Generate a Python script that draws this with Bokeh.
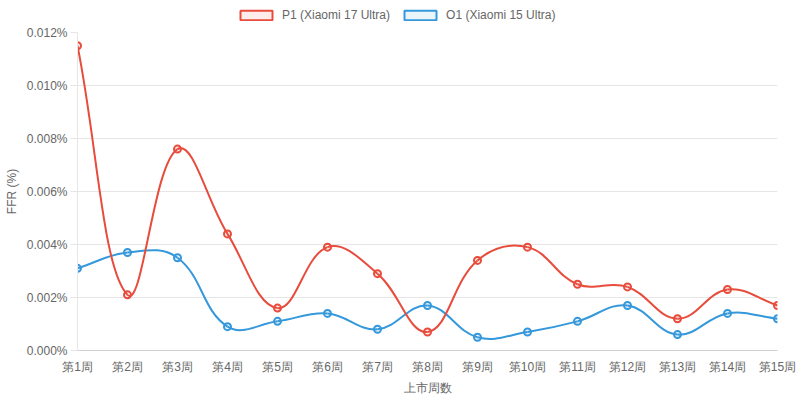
import numpy as np
from bokeh.plotting import figure
from bokeh.layouts import column
from bokeh.models import (Range1d, FixedTicker, PrintfTickFormatter, Legend, LegendItem,
                          ColumnDataSource)
from bokeh.embed import file_html
from bokeh.resources import INLINE

weeks = ["第1周", "第2周", "第3周", "第4周", "第5周", "第6周", "第7周", "第8周",
         "第9周", "第10周", "第11周", "第12周", "第13周", "第14周", "第15周"]
p1_values = [0.0115, 0.0021, 0.0076, 0.0044, 0.0016, 0.0039, 0.0029, 0.0007,
             0.0034, 0.0039, 0.0025, 0.0024, 0.0012, 0.0023, 0.0017]
o1_values = [0.0031, 0.0037, 0.0035, 0.0009, 0.0011, 0.0014, 0.0008, 0.0017,
             0.0005, 0.0007, 0.0011, 0.0017, 0.0006, 0.0014, 0.0012]
y_ticks = [0.0, 0.002, 0.004, 0.006, 0.008, 0.010, 0.012]
p1_name = "P1 (Xiaomi 17 Ultra)"
o1_name = "O1 (Xiaomi 15 Ultra)"

RED = "#e74c3c"
BLUE = "#3498db"
TXT = "#666666"
GRID = "#e6e6e6"
FONT = "Liberation Sans"

W = 800
LEG_H = 24
H = 401 - LEG_H
BL, BR, BT, BB = 77, 23, 8, 51
p = figure(width=W, height=H, output_backend="svg", toolbar_location=None,
           x_range=Range1d(0, len(weeks) - 1), y_range=Range1d(y_ticks[0], y_ticks[-1]),
           min_border_left=BL, min_border_right=BR, min_border_top=BT, min_border_bottom=BB)
p.outline_line_color = None
p.background_fill_color = "white"
p.border_fill_color = "white"

# approx pixel scale for spline distance (Chart.js-like tension spline)
frame_w = W - BL - BR
frame_h = H - BT - BB
sx = frame_w / (len(weeks) - 1)
sy = frame_h / (y_ticks[-1] - y_ticks[0])


def spline_segments(vals, t=0.4):
    xs = np.arange(len(vals), dtype=float)
    ys = np.array(vals, dtype=float)
    n = len(xs)
    cpx_prev = np.zeros(n); cpy_prev = np.zeros(n)
    cpx_next = np.zeros(n); cpy_next = np.zeros(n)
    for i in range(n):
        ip = max(i - 1, 0); inx = min(i + 1, n - 1)
        d01 = np.hypot((xs[i] - xs[ip]) * sx, (ys[i] - ys[ip]) * sy)
        d12 = np.hypot((xs[inx] - xs[i]) * sx, (ys[inx] - ys[i]) * sy)
        tot = d01 + d12
        s01 = d01 / tot if tot else 0.0
        s12 = d12 / tot if tot else 0.0
        fa = t * s01; fb = t * s12
        cpx_prev[i] = xs[i] - fa * (xs[inx] - xs[ip])
        cpy_prev[i] = ys[i] - fa * (ys[inx] - ys[ip])
        cpx_next[i] = xs[i] + fb * (xs[inx] - xs[ip])
        cpy_next[i] = ys[i] + fb * (ys[inx] - ys[ip])
    lo, hi = y_ticks[0], y_ticks[-1]
    cpx_prev = np.clip(cpx_prev, 0, n - 1); cpx_next = np.clip(cpx_next, 0, n - 1)
    cpy_prev = np.clip(cpy_prev, lo, hi); cpy_next = np.clip(cpy_next, lo, hi)
    return dict(x0=xs[:-1], y0=ys[:-1], x1=xs[1:], y1=ys[1:],
                cx0=cpx_next[:-1], cy0=cpy_next[:-1], cx1=cpx_prev[1:], cy1=cpy_prev[1:])


x_idx = list(range(len(weeks)))
for vals, col in [(o1_values, BLUE), (p1_values, RED)]:
    seg = ColumnDataSource(spline_segments(vals))
    p.bezier("x0", "y0", "x1", "y1", "cx0", "cy0", "cx1", "cy1", source=seg,
             line_color=col, line_width=2)
    p.scatter(x_idx, vals, size=7, marker="circle", fill_color=col, fill_alpha=0.1,
              line_color=col, line_width=2)

# legend strip (separate figure above the chart)
leg = figure(width=W, height=LEG_H, output_backend="svg", toolbar_location=None,
             x_axis_type=None, y_axis_type=None, x_range=Range1d(0, 1), y_range=Range1d(0, 1),
             min_border=0)
leg.outline_line_color = None
leg.xgrid.grid_line_color = None
leg.ygrid.grid_line_color = None
nan = float("nan")
r1 = leg.quad(left=[nan], right=[nan], top=[nan], bottom=[nan], fill_color=RED, fill_alpha=0.1,
              line_color=RED, line_width=2)
r2 = leg.quad(left=[nan], right=[nan], top=[nan], bottom=[nan], fill_color=BLUE, fill_alpha=0.1,
              line_color=BLUE, line_width=2)
legend = Legend(items=[LegendItem(label=p1_name, renderers=[r1]),
                       LegendItem(label=o1_name, renderers=[r2])],
                orientation="horizontal", location=(159, 2),
                glyph_width=40, glyph_height=12, label_standoff=6, spacing=10,
                padding=0, margin=0, border_line_color=None, background_fill_alpha=0,
                label_text_font=FONT, label_text_font_size="12px", label_text_color=TXT,
                label_height=12)
leg.add_layout(legend, "center")

# axes
p.xaxis.ticker = FixedTicker(ticks=x_idx)
p.xaxis.major_label_overrides = {i: w for i, w in enumerate(weeks)}
p.xaxis.axis_label = "上市周数"
p.yaxis.ticker = FixedTicker(ticks=y_ticks)
p.yaxis.formatter = PrintfTickFormatter(format="%.3f%%")
p.yaxis.axis_label = "FFR (%)"
for ax in (p.xaxis[0], p.yaxis[0]):
    ax.major_label_text_font = FONT
    ax.major_label_text_font_size = "12px"
    ax.major_label_text_color = TXT
    ax.axis_label_text_font = FONT
    ax.axis_label_text_font_size = "12px"
    ax.axis_label_text_color = TXT
    ax.axis_label_text_font_style = "normal"
    ax.minor_tick_line_color = None
p.xaxis.axis_line_color = "#d0d0d0"
p.xaxis.major_tick_line_color = None
p.xaxis.major_label_standoff = 3
p.xaxis.axis_label_standoff = 4
p.yaxis.axis_line_color = GRID
p.yaxis.major_tick_line_color = GRID
p.yaxis.major_tick_out = 7
p.yaxis.major_tick_in = 0
p.yaxis.major_label_standoff = 3
p.yaxis.axis_label_standoff = 5
p.xgrid.grid_line_color = None
p.ygrid.grid_line_color = GRID
p.ygrid.ticker = FixedTicker(ticks=y_ticks)

layout = column(leg, p, spacing=0)
open("out.html", "w").write(file_html(layout, INLINE))
